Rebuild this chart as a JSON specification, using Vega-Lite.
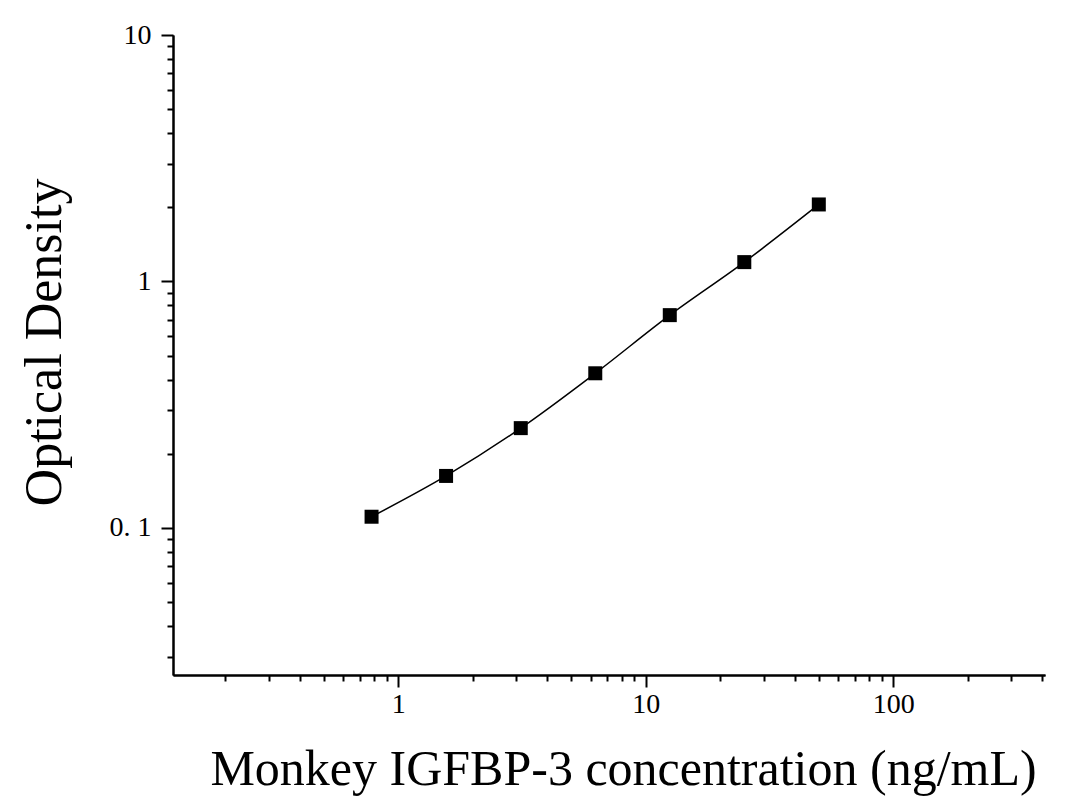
{
  "$schema": "https://vega.github.io/schema/vega-lite/v6.json",
  "width": 872,
  "height": 640,
  "autosize": "none",
  "padding": {"left": 173, "top": 35, "right": 29, "bottom": 128},
  "background": "white",
  "config": {
    "view": {"stroke": null},
    "font": "Liberation Serif",
    "axis": {
      "grid": false,
      "domainColor": "black",
      "domainWidth": 2,
      "tickColor": "black",
      "tickWidth": 2,
      "labelColor": "black",
      "labelFont": "Liberation Serif",
      "titleFont": "Liberation Serif",
      "titleFontWeight": "normal",
      "titleColor": "black"
    }
  },
  "data": {
    "values": [
      {"conc": 0.78, "od": 0.111},
      {"conc": 1.56, "od": 0.1625},
      {"conc": 3.125, "od": 0.254},
      {"conc": 6.25, "od": 0.424},
      {"conc": 12.5, "od": 0.73},
      {"conc": 25, "od": 1.198},
      {"conc": 50, "od": 2.053}
    ]
  },
  "layer": [
    {
      "mark": {"type": "line", "color": "black", "strokeWidth": 1.5, "interpolate": "monotone"},
      "encoding": {
        "x": {
          "field": "conc",
          "type": "quantitative",
          "scale": {"type": "log", "domain": [0.123, 410], "nice": false},
          "axis": {
            "orient": "bottom",
            "values": [1, 10, 100],
            "tickSize": 12,
            "labelFontSize": 28,
            "labelPadding": 3,
            "labelFlush": false,
            "title": "Monkey IGFBP-3 concentration (ng/mL)",
            "titleFontSize": 50,
            "titleX": 450,
            "titleY": 109,
            "titleBaseline": "alphabetic",
            "titleAnchor": "middle"
          }
        },
        "y": {
          "field": "od",
          "type": "quantitative",
          "scale": {"type": "log", "domain": [0.0253, 10], "nice": false},
          "axis": {
            "orient": "left",
            "values": [0.1, 1, 10],
            "tickSize": 12,
            "labelFontSize": 28,
            "labelPadding": 10,
            "labelFlush": false,
            "labelExpr": "datum.value == 0.1 ? '0. 1' : datum.label",
            "title": "Optical Density",
            "titleFontSize": 52,
            "titleX": -113,
            "titleY": 307,
            "titleBaseline": "alphabetic",
            "titleAngle": -90
          }
        }
      }
    },
    {
      "mark": {"type": "point", "shape": "square", "filled": true, "color": "black", "size": 196, "opacity": 1},
      "encoding": {
        "x": {
          "field": "conc",
          "type": "quantitative",
          "scale": {"type": "log", "domain": [0.123, 410], "nice": false},
          "axis": {
            "orient": "bottom",
            "values": [0.2, 0.3, 0.4, 0.5, 0.6, 0.7, 0.8, 0.9, 2, 3, 4, 5, 6, 7, 8, 9, 20, 30, 40, 50, 60, 70, 80, 90, 200, 300, 400],
            "tickSize": 6,
            "labels": false,
            "title": null
          }
        },
        "y": {
          "field": "od",
          "type": "quantitative",
          "scale": {"type": "log", "domain": [0.0253, 10], "nice": false},
          "axis": {
            "orient": "left",
            "values": [0.03, 0.04, 0.05, 0.06, 0.07, 0.08, 0.09, 0.2, 0.3, 0.4, 0.5, 0.6, 0.7, 0.8, 0.9, 2, 3, 4, 5, 6, 7, 8, 9],
            "tickSize": 6,
            "labels": false,
            "title": null
          }
        }
      }
    }
  ],
  "resolve": {"axis": {"x": "independent", "y": "independent"}}
}
